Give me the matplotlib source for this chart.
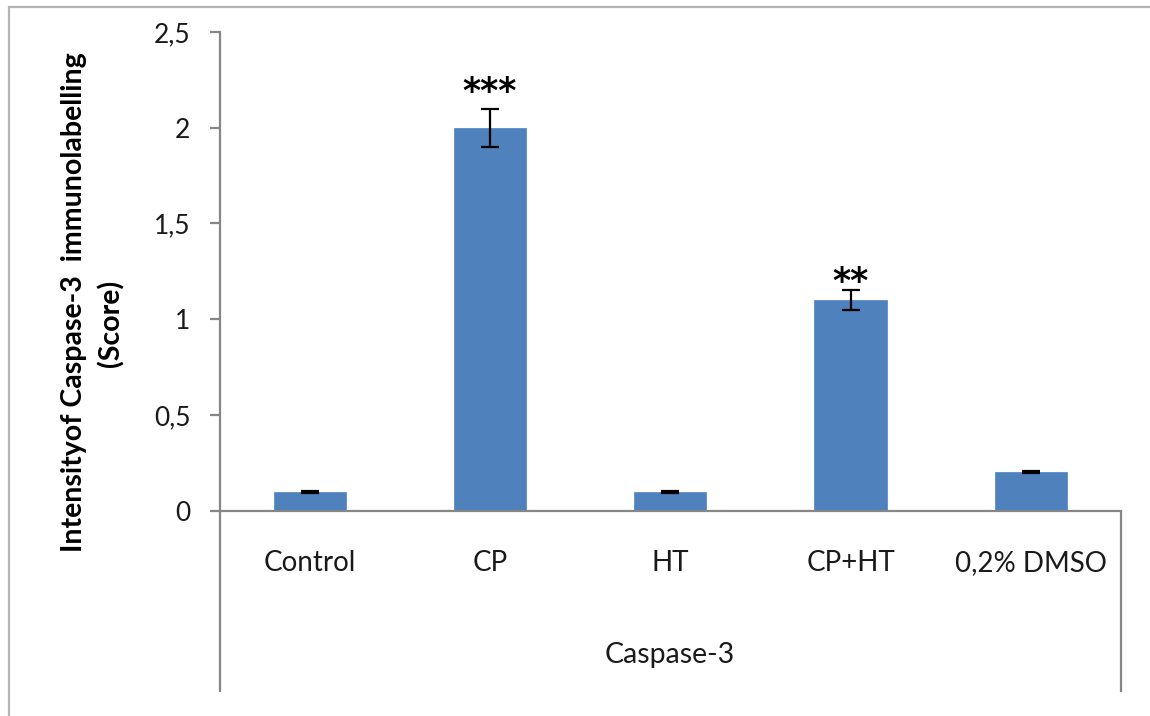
import matplotlib
matplotlib.use("Agg")
import matplotlib.pyplot as plt
from matplotlib.lines import Line2D
from matplotlib.patches import Rectangle

# Data
categories = ["Control", "CP", "HT", "CP+HT", "0,2% DMSO"]
scores = [0.1, 2.0, 0.1, 1.1, 0.2]
errors = [0.005, 0.1, 0.005, 0.05, 0.005]
significance = ["", "***", "", "**", ""]
group_label = "Caspase-3"
y_ticks = [0, 0.5, 1, 1.5, 2, 2.5]
y_tick_labels = ["0", "0,5", "1", "1,5", "2", "2,5"]

plt.rcParams["font.family"] = ["Lato", "DejaVu Sans"]

W, H = 1150, 716
fig = plt.figure(figsize=(W / 100, H / 100), dpi=100)
fig.patch.set_facecolor("white")

# Chart area frame (top and left edges visible)
fig.add_artist(Rectangle((9 / W, -0.1), 1.2, (H - 7) / H + 0.1,
                         transform=fig.transFigure, fill=False,
                         edgecolor="#b4b4b4", linewidth=1.6))

x0, x1 = 219.5, 1121
y_top, y_zero = 32, 510.7
ax = fig.add_axes([x0 / W, (H - y_zero) / H, (x1 - x0) / W, (y_zero - y_top) / H])

axis_color = "#868686"
xs = list(range(len(categories)))
ax.bar(xs, scores, width=0.4, color="#4F81BD", edgecolor="#5b8cc6", linewidth=0.6, zorder=2)
ax.errorbar(xs, scores, yerr=errors, fmt="none", ecolor="black",
            elinewidth=1.6, capsize=6.5, capthick=1.6, zorder=3)

# Significance stars above the error bars
star_offsets = {"***": 12, "**": 6}
for x, v, e, s in zip(xs, scores, errors, significance):
    if s:
        ax.annotate(s, xy=(x, v + e), xytext=(0, star_offsets[s]),
                    textcoords="offset points", ha="center", va="center",
                    fontsize=25, fontweight="bold", color="black",
                    family="DejaVu Sans")

ax.set_xlim(-0.5, len(categories) - 0.5)
ax.set_ylim(0, 2.5)
ax.set_yticks(y_ticks)
ax.set_yticklabels(y_tick_labels)
ax.set_xticks([])

for side in ("top", "right"):
    ax.spines[side].set_visible(False)
for side in ("left", "bottom"):
    ax.spines[side].set_color(axis_color)
    ax.spines[side].set_linewidth(1.6)
ax.tick_params(axis="y", direction="out", length=7, width=1.6, color=axis_color,
               labelsize=19, pad=14, labelcolor="#1a1a1a")

# Category labels and group label below the axis
for x, c in zip(xs, categories):
    ax.text(x, -0.275, c, ha="center", va="center", fontsize=20, color="#1a1a1a")
ax.text((len(categories) - 1) / 2, -0.755, group_label, ha="center", va="center",
        fontsize=20.5, color="#1a1a1a")

# Group boundary lines extending below the axis
y_low = -(692 - y_zero) / (y_zero - y_top) * 2.5
for xb in (-0.5, len(categories) - 0.5):
    ax.add_line(Line2D([xb, xb], [0, y_low], color=axis_color, linewidth=1.6,
                       clip_on=False, solid_capstyle="butt"))

# Y axis title (two lines)
fig.text(74 / W, 1 - 302 / H, "Intensityof Caspase-3  immunolabelling",
         rotation=90, ha="center", va="center", fontsize=20.5, fontweight="bold")
fig.text(111 / W, 1 - 323 / H, "(Score)", rotation=90, ha="center", va="center",
         fontsize=20.5, fontweight="bold")

fig.savefig("out.png", dpi=100, facecolor="white")
